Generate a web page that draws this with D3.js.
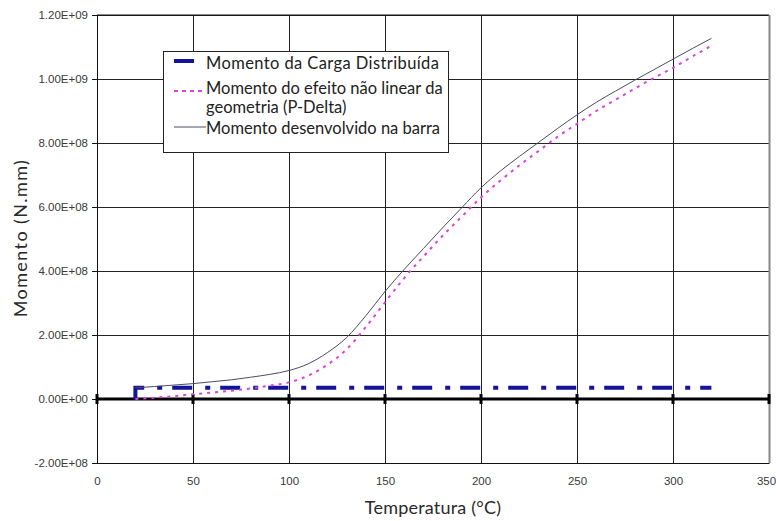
<!DOCTYPE html>
<html>
<head>
<meta charset="utf-8">
<script src="https://cdn.jsdelivr.net/npm/d3@7"></script>
<style>
    body { margin: 0; background: #fff; }
    svg { display: block; }
    .tick text { font-family: "Liberation Sans", Arial, sans-serif; font-size: 11.5px; fill: #3a3a3a; }
    .title { font-family: Lato, "Open Sans", sans-serif; font-size: 18px; fill: #2a2a2a; }
    .legend text { font-family: Lato, "Open Sans", sans-serif; font-size: 16.5px; fill: #222; }
</style>
</head>
<body>
<div id="chart"></div>
<script>

// data
var temperatura = [20, 30, 40, 50, 60, 70, 80, 90, 100, 110, 120, 130, 140, 150, 160, 170,
    180, 190, 200, 210, 220, 230, 240, 250, 260, 270, 280, 290, 300, 310, 320];

var momentoPDelta = [0, 0.4e7, 0.9e7, 1.5e7, 2.0e7, 2.6e7, 3.3e7, 4.2e7, 5.2e7, 7.3e7, 1.07e8,
    1.55e8, 2.25e8, 3.02e8, 3.78e8, 4.45e8, 5.1e8, 5.7e8, 6.3e8, 6.82e8, 7.3e8, 7.75e8, 8.2e8,
    8.6e8, 9.0e8, 9.35e8, 9.7e8, 1.003e9, 1.035e9, 1.07e9, 1.104e9];

var momentoBarra = [3.5e7, 3.9e7, 4.35e7, 4.8e7, 5.4e7, 6.0e7, 6.8e7, 7.7e7, 8.9e7, 1.1e8, 1.45e8,
    1.92e8, 2.6e8, 3.36e8, 4.05e8, 4.7e8, 5.35e8, 5.98e8, 6.6e8, 7.12e8, 7.58e8, 8.02e8, 8.46e8,
    8.88e8, 9.27e8, 9.62e8, 9.96e8, 1.029e9, 1.062e9, 1.095e9, 1.127e9];

// carga distribuida: jump at 20 then constant
var cargaTemp = [20, 20, 320];
var cargaMomento = [0, 3.5e7, 3.5e7];

var xTicks = [0, 50, 100, 150, 200, 250, 300, 350];
var yTicks = [-2e8, 0, 2e8, 4e8, 6e8, 8e8, 1e9, 1.2e9];

var legendLabels = [
    ['Momento da Carga Distribuída'],
    ['Momento do efeito não linear da', 'geometria (P-Delta)'],
    ['Momento desenvolvido na barra']
];

var width = 776,
    height = 521,
    margin = { top: 15, right: 7, bottom: 58, left: 97 };

var innerW = width - margin.left - margin.right,
    innerH = height - margin.top - margin.bottom;

var x = d3.scaleLinear().domain([0, 350]).range([0, innerW]);
var y = d3.scaleLinear().domain([-2e8, 1.2e9]).range([innerH, 0]);

var svg = d3.select('#chart').append('svg')
    .attr('width', width)
    .attr('height', height);

var g = svg.append('g')
    .attr('transform', 'translate(' + margin.left + ',' + margin.top + ')');

function fmt(v) {
    var s = v.toExponential(2).toUpperCase();
    // 1.20E+9 -> 1.20E+09
    return s.replace(/E([+-])(\d)$/, 'E$10$2');
}

// grid
g.append('g')
    .attr('class', 'grid-y')
    .call(d3.axisLeft(y).tickValues(yTicks).tickSize(-innerW).tickFormat(''))
    .call(function(s) {
        s.select('.domain').remove();
        s.selectAll('line').attr('stroke', '#222').attr('stroke-width', 1);
    });

g.append('g')
    .attr('class', 'grid-x')
    .attr('transform', 'translate(0,' + innerH + ')')
    .call(d3.axisBottom(x).tickValues(xTicks).tickSize(-innerH).tickFormat(''))
    .call(function(s) {
        s.select('.domain').remove();
        s.selectAll('line').attr('stroke', '#222').attr('stroke-width', 1);
    });

// y axis labels
g.append('g')
    .call(d3.axisLeft(y).tickValues(yTicks).tickSize(5).tickPadding(4).tickFormat(fmt))
    .call(function(s) {
        s.select('.domain').attr('stroke', '#111');
        s.selectAll('line').attr('stroke', '#111');
    });

// x axis labels
g.append('g')
    .attr('transform', 'translate(0,' + innerH + ')')
    .call(d3.axisBottom(x).tickValues(xTicks).tickSize(0).tickPadding(14).tickFormat(d3.format('d')))
    .call(function(s) {
        s.select('.domain').attr('stroke', '#111');
        // last label sits on the edge, pull it in a little
        s.selectAll('.tick text').filter(function(d) { return d === 350; }).attr('dx', -3);
    });

// plot frame
g.append('line')
    .attr('x1', 0).attr('x2', innerW).attr('y1', 0).attr('y2', 0)
    .attr('stroke', '#111');
g.append('line')
    .attr('x1', innerW + 0.5).attr('x2', innerW + 0.5).attr('y1', 0).attr('y2', innerH)
    .attr('stroke', '#888').attr('stroke-width', 2);

// zero line with cross ticks
g.append('line')
    .attr('x1', 0).attr('x2', innerW).attr('y1', y(0)).attr('y2', y(0))
    .attr('stroke', '#000').attr('stroke-width', 3);

g.selectAll('.zero-tick')
    .data(xTicks)
    .enter().append('line')
    .attr('class', 'zero-tick')
    .attr('x1', function(d) { return x(d); })
    .attr('x2', function(d) { return x(d); })
    .attr('y1', y(0) - 5)
    .attr('y2', y(0) + 5)
    .attr('stroke', '#000')
    .attr('stroke-width', 3);

// series
var line = d3.line()
    .x(function(d) { return x(d[0]); })
    .y(function(d) { return y(d[1]); });

var smooth = d3.line()
    .x(function(d) { return x(d[0]); })
    .y(function(d) { return y(d[1]); })
    .curve(d3.curveMonotoneX);

g.append('path')
    .datum(d3.zip(cargaTemp, cargaMomento))
    .attr('fill', 'none')
    .attr('stroke', '#14149a')
    .attr('stroke-width', 4)
    .attr('stroke-dasharray', '20,13,5,10')
    .attr('d', line);

g.append('path')
    .datum(d3.zip(temperatura, momentoPDelta))
    .attr('fill', 'none')
    .attr('stroke', '#e040e0')
    .attr('stroke-width', 2)
    .attr('stroke-dasharray', '3,5')
    .attr('d', smooth);

g.append('path')
    .datum(d3.zip(temperatura, momentoBarra))
    .attr('fill', 'none')
    .attr('stroke', '#4a4a66')
    .attr('stroke-width', 1)
    .attr('d', smooth);

// axis titles
svg.append('text')
    .attr('class', 'title')
    .attr('x', margin.left + x(175))
    .attr('y', 514)
    .attr('text-anchor', 'middle')
    .attr('letter-spacing', 0.2)
    .text('Temperatura (°C)');

svg.append('text')
    .attr('class', 'title')
    .attr('transform', 'translate(27,238)rotate(-90)')
    .attr('text-anchor', 'middle')
    .attr('letter-spacing', 1.4)
    .text('Momento (N.mm)');

// legend
var legend = svg.append('g')
    .attr('class', 'legend')
    .attr('transform', 'translate(163,51)');

legend.append('rect')
    .attr('x', 0.5).attr('y', 0.5)
    .attr('width', 285).attr('height', 101)
    .attr('fill', '#fff')
    .attr('stroke', '#222');

var styles = [
    { stroke: '#14149a', width: 4, dash: null, x1: 11, x2: 31, y: 10 },
    { stroke: '#e040e0', width: 2, dash: '4,4', x1: 11, x2: 40, y: 40 },
    { stroke: '#4a4a66', width: 1, dash: null, x1: 11, x2: 43, y: 76 }
];
// baselines of each legend row (first line), relative to legend box
var rowBase = [18, 43, 83];
var rowSpacing = [0.4, 0, 0];

legendLabels.forEach(function(lines, i) {
    var st = styles[i];
    legend.append('line')
        .attr('x1', st.x1).attr('x2', st.x2)
        .attr('y1', st.y).attr('y2', st.y)
        .attr('stroke', st.stroke)
        .attr('stroke-width', st.width)
        .attr('stroke-dasharray', st.dash);
    lines.forEach(function(t, j) {
        legend.append('text')
            .attr('x', 43)
            .attr('y', rowBase[i] + j * 19)
            .attr('letter-spacing', rowSpacing[i])
            .text(t);
    });
});

</script>
</body>
</html>
